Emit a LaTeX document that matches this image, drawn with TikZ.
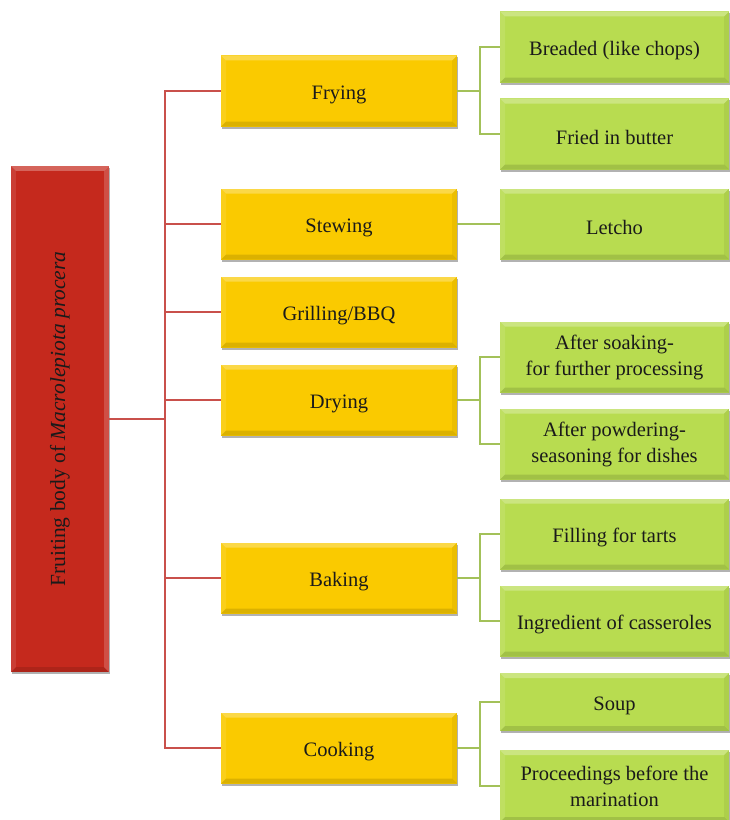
\documentclass[tikz,border=0pt]{standalone}
\usepackage{fontspec}
\setmainfont{Liberation Serif}
\usetikzlibrary{shadows,calc}
\definecolor{rootred}{HTML}{C5291D}
\definecolor{ylw}{HTML}{FACA00}
\definecolor{grn}{HTML}{B8DC50}
\definecolor{redline}{HTML}{C9504B}
\definecolor{grnline}{HTML}{A3C159}
\definecolor{txt}{HTML}{1A1A1A}
\tikzset{
  bevel/.style={path picture={
    \fill[white,opacity=.28] (path picture bounding box.north west) -- (path picture bounding box.north east)
      -- ([shift={(-5bp,-5bp)}]path picture bounding box.north east) -- ([shift={(5bp,-5bp)}]path picture bounding box.north west) -- cycle;
    \fill[white,opacity=.10] (path picture bounding box.north west) -- ([shift={(5bp,-5bp)}]path picture bounding box.north west)
      -- ([shift={(5bp,5bp)}]path picture bounding box.south west) -- (path picture bounding box.south west) -- cycle;
    \fill[black,opacity=.12] (path picture bounding box.south west) -- (path picture bounding box.south east)
      -- ([shift={(-5bp,5bp)}]path picture bounding box.south east) -- ([shift={(5bp,5bp)}]path picture bounding box.south west) -- cycle;
    \fill[#1] (path picture bounding box.north east) -- ([shift={(-5bp,-5bp)}]path picture bounding box.north east)
      -- ([shift={(-5bp,5bp)}]path picture bounding box.south east) -- (path picture bounding box.south east) -- cycle;
  }},
  bevel/.default={black,opacity=.06},
  basebox/.style={inner sep=0pt, align=center, text=txt,
    font=\fontsize{20.5bp}{26bp}\selectfont,
    drop shadow={shadow xshift=1.2bp,shadow yshift=-2bp,opacity=.3,fill=black}},
  lowtext/.style={execute at begin node={\rule{0pt}{20.5bp}}},
  rootbox/.style={basebox, bevel={white,opacity=.18}, fill=rootred, minimum width=98bp, minimum height=506bp,
    font=\fontsize{21.5bp}{26bp}\selectfont},
  ybox/.style={basebox, lowtext, bevel, fill=ylw, minimum width=236bp, minimum height=71bp},
  gbox/.style={basebox, lowtext, bevel, fill=grn, minimum width=229bp, minimum height=71bp},
  rline/.style={draw=redline, line width=1.8bp},
  gline/.style={draw=grnline, line width=1.8bp},
}
\begin{document}
\begin{tikzpicture}[x=1bp,y=-1bp]
\useasboundingbox (0,0) rectangle (730,820);
\clip (0,0) rectangle (730,820);

% root
\node[rootbox] (root) at (60,419) {\rotatebox{90}{Fruiting body of \textit{Macrolepiota procera}}};

% methods
\node[ybox] (frying)   at (339,91)  {Frying};
\node[ybox] (stewing)  at (339,224) {Stewing};
\node[ybox] (grilling) at (339,312) {Grilling/BBQ};
\node[ybox] (drying)   at (339,400) {Drying};
\node[ybox] (baking)   at (339,578) {Baking};
\node[ybox] (cooking)  at (339,748) {Cooking};

% uses
\node[gbox] (breaded) at (614.5,47)  {Breaded (like chops)};
\node[gbox] (butter)  at (614.5,134) {Fried in butter};
\node[gbox] (letcho)  at (614.5,224) {Letcho};
\node[gbox] (soaking) at (614.5,357) {After soaking-\\for further processing};
\node[gbox] (powder)  at (614.5,444) {After powdering-\\seasoning for dishes};
\node[gbox] (tarts)   at (614.5,534) {Filling for tarts};
\node[gbox] (cass)    at (614.5,621) {Ingredient of casseroles};
\node[gbox, minimum height=58bp] (soup) at (614.5,702) {Soup};
\node[gbox, minimum height=72bp] (proc) at (614.5,786) {Proceedings before the\\marination};

% red connectors
\coordinate (trunk) at (165,419);
\draw[rline] (root.east) -- (trunk);
\foreach \n in {frying,stewing,grilling,drying,baking,cooking}
  \draw[rline] (trunk) |- (\n.west);

% green connectors
\draw[gline] (frying.east) -- ++(23bp,0) |- (breaded.west);
\draw[gline] (frying.east) -- ++(23bp,0) |- (butter.west);
\draw[gline] (stewing.east) -- (letcho.west);
\draw[gline] (drying.east) -- ++(23bp,0) |- (soaking.west);
\draw[gline] (drying.east) -- ++(23bp,0) |- (powder.west);
\draw[gline] (baking.east) -- ++(23bp,0) |- (tarts.west);
\draw[gline] (baking.east) -- ++(23bp,0) |- (cass.west);
\draw[gline] (cooking.east) -- ++(23bp,0) |- (soup.west);
\draw[gline] (cooking.east) -- ++(23bp,0) |- (proc.west);
\end{tikzpicture}
\end{document}
